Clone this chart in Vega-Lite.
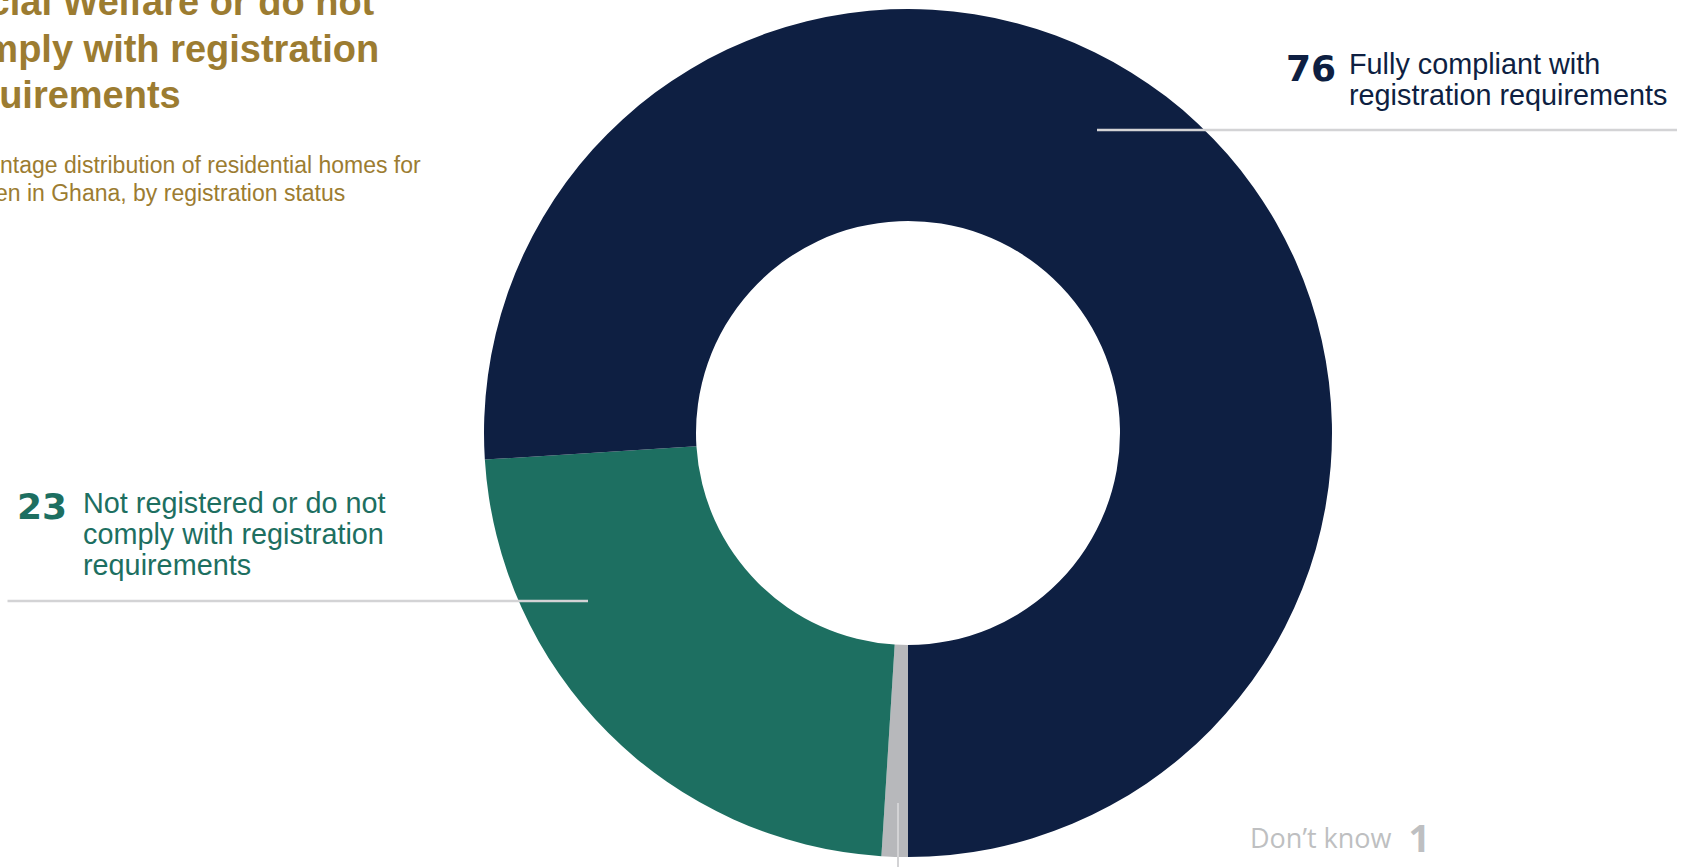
{
  "$schema": "https://vega.github.io/schema/vega-lite/v6.json",
  "width": 1688,
  "height": 867,
  "autosize": {"type": "none"},
  "padding": 0,
  "background": "white",
  "config": {"view": {"stroke": null}},
  "datasets": {
    "slices": [
      {"status": "Don't know", "pct": 1, "order": 1, "label": "Don’t know"},
      {"status": "Not registered or do not comply with registration requirements", "pct": 23, "order": 2, "label": "Not registered or do not\ncomply with registration\nrequirements"},
      {"status": "Fully compliant with registration requirements", "pct": 76, "order": 3, "label": "Fully compliant with\nregistration requirements"}
    ],
    "one": [{}]
  },
  "layer": [
    {
      "data": {"name": "slices"},
      "mark": {"type": "arc", "outerRadius": 424, "innerRadius": 212},
      "encoding": {
        "theta": {"field": "pct", "type": "quantitative", "stack": true, "scale": {"range": [3.14159265, 9.42477796]}},
        "order": {"field": "order", "type": "quantitative"},
        "color": {
          "field": "status", "type": "nominal",
          "scale": {
            "domain": ["Don't know", "Not registered or do not comply with registration requirements", "Fully compliant with registration requirements"],
            "range": ["#B7B8BB", "#1D6F61", "#0E1F42"]
          },
          "legend": null
        },
        "x": {"datum": 908, "type": "quantitative", "scale": {"domain": [0, 1688], "nice": false, "zero": false}, "axis": null},
        "y": {"datum": 433, "type": "quantitative", "scale": {"domain": [0, 867], "nice": false, "zero": false, "reverse": true}, "axis": null}
      }
    },
    {
      "data": {"name": "one"},
      "mark": {"type": "rule", "color": "#D3D3D5", "strokeWidth": 2.5},
      "encoding": {
        "x": {"datum": 1097, "type": "quantitative"},
        "x2": {"datum": 1677},
        "y": {"datum": 130, "type": "quantitative"}
      }
    },
    {
      "data": {"name": "one"},
      "mark": {"type": "rule", "color": "#D3D3D5", "strokeWidth": 2.5},
      "encoding": {
        "x": {"datum": 7.5, "type": "quantitative"},
        "x2": {"datum": 588},
        "y": {"datum": 601, "type": "quantitative"}
      }
    },
    {
      "data": {"name": "one"},
      "mark": {"type": "rule", "color": "#D3D3D5", "strokeWidth": 2},
      "encoding": {
        "x": {"datum": 898, "type": "quantitative"},
        "y": {"datum": 803, "type": "quantitative"},
        "y2": {"datum": 867}
      }
    },
    {
      "data": {"name": "one"},
      "mark": {"type": "text", "text": ["Social Welfare or do not", "comply with registration", "requirements"], "align": "left", "baseline": "alphabetic", "font": "Liberation Sans", "fontWeight": "bold", "fontSize": 38, "lineHeight": 46.7, "color": "#9C7C31"},
      "encoding": {
        "x": {"datum": -60, "type": "quantitative"},
        "y": {"datum": 15, "type": "quantitative"}
      }
    },
    {
      "data": {"name": "one"},
      "mark": {"type": "text", "text": ["Percentage distribution of residential homes for", "children in Ghana, by registration status"], "align": "left", "baseline": "alphabetic", "font": "Liberation Sans", "fontSize": 23, "lineHeight": 27.5, "color": "#9C7C31"},
      "encoding": {
        "x": {"datum": -60, "type": "quantitative"},
        "y": {"datum": 173.3, "type": "quantitative"}
      }
    },
    {
      "data": {"name": "slices"},
      "transform": [{"filter": "datum.order == 3"}],
      "mark": {"type": "text", "align": "right", "baseline": "alphabetic", "font": "DejaVu Sans", "fontWeight": "bold", "fontSize": 36, "color": "#0E1F42"},
      "encoding": {
        "text": {"field": "pct", "type": "quantitative"},
        "x": {"datum": 1336, "type": "quantitative"},
        "y": {"datum": 80.7, "type": "quantitative"}
      }
    },
    {
      "data": {"name": "slices"},
      "transform": [{"filter": "datum.order == 3"}],
      "mark": {"type": "text", "align": "left", "baseline": "alphabetic", "font": "Liberation Sans", "fontSize": 28.8, "lineHeight": 31, "lineBreak": "\n", "color": "#0E1F42"},
      "encoding": {
        "text": {"field": "label", "type": "nominal"},
        "x": {"datum": 1349, "type": "quantitative"},
        "y": {"datum": 74, "type": "quantitative"}
      }
    },
    {
      "data": {"name": "slices"},
      "transform": [{"filter": "datum.order == 2"}],
      "mark": {"type": "text", "align": "right", "baseline": "alphabetic", "font": "DejaVu Sans", "fontWeight": "bold", "fontSize": 36, "color": "#1D6F61"},
      "encoding": {
        "text": {"field": "pct", "type": "quantitative"},
        "x": {"datum": 67, "type": "quantitative"},
        "y": {"datum": 519.3, "type": "quantitative"}
      }
    },
    {
      "data": {"name": "slices"},
      "transform": [{"filter": "datum.order == 2"}],
      "mark": {"type": "text", "align": "left", "baseline": "alphabetic", "font": "Liberation Sans", "fontSize": 28.8, "lineHeight": 31, "lineBreak": "\n", "color": "#1D6F61"},
      "encoding": {
        "text": {"field": "label", "type": "nominal"},
        "x": {"datum": 83, "type": "quantitative"},
        "y": {"datum": 513, "type": "quantitative"}
      }
    },
    {
      "data": {"name": "slices"},
      "transform": [{"filter": "datum.order == 1"}],
      "mark": {"type": "text", "align": "left", "baseline": "alphabetic", "font": "Open Sans", "fontSize": 27, "color": "#BEBFC1"},
      "encoding": {
        "text": {"field": "label", "type": "nominal"},
        "x": {"datum": 1250, "type": "quantitative"},
        "y": {"datum": 848.3, "type": "quantitative"}
      }
    },
    {
      "data": {"name": "slices"},
      "transform": [{"filter": "datum.order == 1"}],
      "mark": {"type": "text", "align": "left", "baseline": "alphabetic", "font": "Open Sans", "fontWeight": "bold", "fontSize": 38, "color": "#BEBFC1"},
      "encoding": {
        "text": {"field": "pct", "type": "quantitative"},
        "x": {"datum": 1408.5, "type": "quantitative"},
        "y": {"datum": 851.7, "type": "quantitative"}
      }
    }
  ]
}
